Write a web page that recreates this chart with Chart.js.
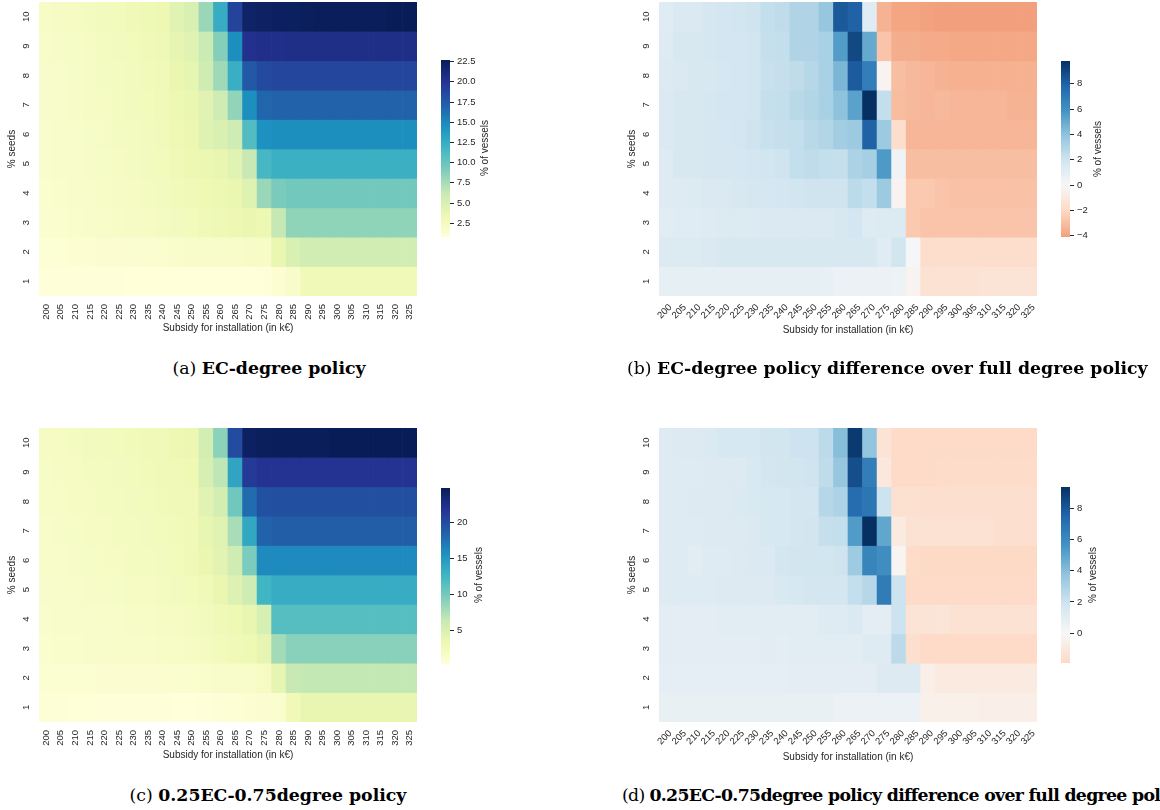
<!DOCTYPE html>
<html>
<head>
<meta charset="utf-8">
<script src="https://cdn.jsdelivr.net/npm/chart.js@4.4.0/dist/chart.umd.min.js"></script>
<style>
  html, body { margin: 0; padding: 0; background: #fff; }
  body { width: 1160px; height: 810px; position: relative; overflow: hidden; }
  canvas { position: absolute; }
  .cbtitle { position: absolute; font: 10px "Liberation Sans", Arial, sans-serif; color: #262626;
             white-space: nowrap; transform: translate(-50%, -50%) rotate(-90deg); }
  .caption { position: absolute; font-family: "DejaVu Serif", serif; white-space: nowrap; color: #000;
             line-height: 1; font-size: 15px; }
  .caption b { font-weight: bold; }
</style>
</head>
<body>
<canvas id="mapA" width="420" height="341" style="left:0;top:0"></canvas>
<canvas id="mapB" width="420" height="341" style="left:620px;top:0"></canvas>
<canvas id="mapC" width="420" height="341" style="left:0;top:426px"></canvas>
<canvas id="mapD" width="420" height="341" style="left:620px;top:426px"></canvas>

<canvas id="barA" width="45" height="185" style="left:441px;top:56px"></canvas>
<canvas id="barB" width="45" height="184" style="left:1061px;top:57px"></canvas>
<canvas id="barC" width="45" height="184" style="left:441px;top:484px"></canvas>
<canvas id="barD" width="45" height="184" style="left:1061px;top:483px"></canvas>

<div class="cbtitle" style="left:484px;top:148px">% of vessels</div>
<div class="cbtitle" style="left:1097px;top:149px">% of vessels</div>
<div class="cbtitle" style="left:478px;top:575px">% of vessels</div>
<div class="cbtitle" style="left:1092px;top:575px">% of vessels</div>

<div class="caption" id="capA" style="left:269px;top:360px;transform:translateX(-50%)">(a) <b>EC-degree policy</b></div>
<div class="caption" id="capB" style="left:627px;top:360px">(b) <b>EC-degree policy difference over full degree policy</b></div>
<div class="caption" id="capC" style="left:268px;top:787px;transform:translateX(-50%)">(c) <b>0.25EC-0.75degree policy</b></div>
<div class="caption" id="capD" style="left:622px;top:787px">(d) <b>0.25EC-0.75degree policy difference over full degree policy</b></div>

<script>
// x categories: subsidy for installation (k€)
const subsidies = ['200', '205', '210', '215', '220', '225', '230', '235', '240', '245', '250', '255', '260',
                   '265', '270', '275', '280', '285', '290', '295', '300', '305', '310', '315', '320', '325'];
// y rows: % seeds, top row first
const seedRows = [10, 9, 8, 7, 6, 5, 4, 3, 2, 1];

// (a) EC-degree policy, % of vessels
const ecDegree = [
  [2.0,2.2,2.3,2.5,2.7,2.8,3.0,3.2,3.4,4.5,5.0,8.0,12.5,19.0,22.0,22.2,22.3,22.4,22.5,22.6,22.6,22.6,22.6,22.6,22.7,22.7],
  [1.9,2.0,2.1,2.3,2.5,2.6,2.8,3.0,3.2,4.0,4.4,6.0,8.8,14.6,20.3,20.4,20.4,20.5,20.5,20.5,20.5,20.5,20.5,20.5,20.5,20.5],
  [1.8,1.9,2.1,2.2,2.4,2.5,2.7,2.9,3.1,3.7,4.1,5.7,7.8,12.3,17.6,18.5,18.7,18.8,18.8,18.8,18.8,18.8,18.8,18.8,18.8,18.8],
  [1.8,1.9,2.0,2.2,2.3,2.5,2.6,2.8,3.0,3.5,3.8,4.5,5.8,8.3,14.6,16.8,17.0,17.0,17.0,17.0,17.0,17.0,17.0,17.0,17.0,17.0],
  [1.7,1.8,1.9,2.1,2.2,2.4,2.5,2.7,2.9,3.3,3.6,4.6,5.0,5.8,11.0,14.5,14.6,14.6,14.6,14.6,14.6,14.6,14.6,14.6,14.6,14.6],
  [1.7,1.8,1.9,2.0,2.1,2.3,2.4,2.6,2.8,3.1,3.4,3.6,3.9,4.5,6.2,11.5,12.2,12.2,12.2,12.2,12.2,12.2,12.2,12.2,12.2,12.2],
  [1.6,1.7,1.8,1.9,2.0,2.2,2.3,2.5,2.6,2.9,3.1,3.3,3.5,3.8,4.6,8.0,9.2,9.6,9.6,9.6,9.6,9.6,9.6,9.6,9.6,9.6],
  [1.5,1.6,1.7,1.8,1.9,2.0,2.2,2.3,2.4,2.6,2.8,3.0,3.2,3.4,3.7,3.5,6.3,8.4,8.4,8.4,8.4,8.4,8.4,8.4,8.4,8.4],
  [1.2,1.2,1.3,1.3,1.4,1.4,1.5,1.5,1.6,1.7,1.8,1.8,1.9,1.9,2.0,2.0,3.8,5.0,5.5,5.5,5.5,5.5,5.5,5.5,5.5,5.5],
  [0.9,0.9,0.9,0.9,0.9,0.9,0.85,0.85,0.85,0.8,0.8,0.8,0.8,0.8,0.8,0.9,1.3,1.8,3.1,3.1,3.1,3.1,3.1,3.1,3.1,3.1]
];

// (b) EC-degree minus full degree
const ecDegreeDiff = [
  [1.2,1.5,1.5,1.7,1.8,1.9,2.0,2.4,2.5,3.0,3.0,3.8,8.3,8.0,1.2,-3.4,-3.9,-3.9,-4.0,-4.1,-4.1,-4.1,-4.1,-4.1,-4.1,-4.1],
  [1.3,1.6,1.6,1.7,1.8,1.8,1.9,2.3,2.4,3.0,3.0,3.2,5.5,8.9,5.0,-2.8,-3.6,-3.6,-3.7,-3.7,-3.8,-3.8,-3.8,-3.8,-3.8,-3.8],
  [1.4,1.5,1.6,1.6,1.7,1.8,1.9,2.2,2.3,2.5,2.8,3.2,4.5,8.2,6.8,-0.3,-3.0,-3.2,-3.3,-3.4,-3.5,-3.5,-3.5,-3.5,-3.5,-3.5],
  [1.5,1.6,1.6,1.7,1.8,1.8,1.9,2.3,2.4,2.7,2.9,3.2,4.0,5.3,9.8,2.4,-3.1,-3.2,-3.3,-3.2,-3.3,-3.3,-3.3,-3.3,-3.4,-3.4],
  [1.5,1.6,1.6,1.7,1.7,1.8,2.0,2.2,2.3,2.4,2.7,2.9,3.4,3.6,8.0,3.6,-1.8,-3.3,-3.3,-3.3,-3.3,-3.3,-3.3,-3.3,-3.3,-3.3],
  [1.3,1.6,1.6,1.7,1.7,1.7,1.8,1.9,2.0,2.4,2.5,2.4,2.3,3.1,3.3,5.6,0.4,-3.0,-3.0,-3.0,-3.0,-3.0,-3.0,-3.0,-3.0,-3.0],
  [1.3,1.3,1.4,1.5,1.5,1.6,1.7,1.7,1.8,1.9,2.0,2.0,2.0,2.6,2.4,3.6,-0.3,-2.6,-2.6,-2.8,-2.9,-2.9,-2.9,-2.9,-2.9,-2.9],
  [1.1,1.2,1.2,1.3,1.4,1.4,1.4,1.5,1.5,1.5,1.5,1.5,1.6,1.8,1.3,1.4,1.4,-2.6,-2.8,-2.8,-2.8,-2.8,-2.8,-2.8,-2.8,-2.8],
  [1.4,1.4,1.4,1.5,1.6,1.6,1.6,1.6,1.6,1.6,1.6,1.6,1.6,1.6,1.6,1.2,1.9,0.1,-1.8,-1.8,-1.8,-1.8,-1.8,-1.8,-1.8,-1.8],
  [0.9,0.9,0.9,0.9,0.9,0.9,0.9,0.9,0.9,0.9,0.9,0.8,0.6,0.6,0.6,0.6,0.5,-0.3,-1.5,-1.5,-1.5,-1.5,-1.4,-1.4,-1.4,-1.4]
];

// (c) 0.25EC-0.75degree policy
const mixedPolicy = [
  [2.0,2.1,2.2,2.4,2.5,2.6,2.7,2.9,3.0,3.3,3.5,5.5,9.0,20.0,24.2,24.5,24.6,24.6,24.6,24.6,24.7,24.7,24.7,24.7,24.7,24.7],
  [1.9,2.0,2.1,2.2,2.3,2.4,2.6,2.7,2.9,3.0,3.2,5.2,6.8,14.0,21.2,21.8,21.8,21.8,21.8,21.8,21.8,21.8,21.8,21.8,21.8,21.8],
  [1.8,1.9,2.0,2.1,2.2,2.3,2.4,2.6,2.7,2.8,3.0,4.5,5.5,10.3,17.8,19.6,19.7,19.7,19.7,19.7,19.7,19.7,19.7,19.7,19.7,19.7],
  [1.7,1.8,1.9,2.0,2.1,2.2,2.3,2.4,2.6,2.7,2.9,3.9,4.5,7.8,13.8,18.4,18.6,18.6,18.6,18.6,18.6,18.6,18.6,18.6,18.6,18.6],
  [1.6,1.7,1.8,1.9,2.0,2.1,2.2,2.3,2.4,2.6,2.8,3.6,4.2,5.8,9.7,16.0,16.0,16.0,16.0,16.0,16.0,16.0,16.0,16.0,16.0,16.0],
  [1.5,1.6,1.7,1.8,1.8,1.9,2.0,2.1,2.2,2.4,2.6,3.0,3.6,4.7,5.9,12.6,13.4,13.4,13.4,13.4,13.4,13.4,13.4,13.4,13.4,13.4],
  [1.4,1.5,1.5,1.6,1.6,1.7,1.8,1.9,2.0,2.1,2.2,2.5,2.8,3.2,3.8,5.3,11.5,11.5,11.5,11.5,11.5,11.5,11.5,11.5,11.5,11.5],
  [1.3,1.4,1.4,1.5,1.5,1.6,1.6,1.7,1.8,1.9,2.0,2.3,2.6,2.9,3.2,4.0,8.0,9.1,9.1,9.1,9.1,9.1,9.1,9.1,9.1,9.1],
  [1.0,1.0,1.0,1.0,1.1,1.1,1.1,1.1,1.1,1.2,1.2,1.4,1.5,1.6,1.7,2.0,4.0,6.4,6.6,6.6,6.6,6.6,6.6,6.6,6.6,6.6],
  [0.7,0.7,0.6,0.6,0.5,0.5,0.5,0.5,0.5,0.4,0.4,0.6,0.7,0.8,0.9,1.1,1.3,3.0,3.8,3.8,3.8,3.8,3.8,3.8,3.8,3.8]
];

// (d) 0.25EC-0.75degree minus full degree
const mixedPolicyDiff = [
  [1.2,1.3,1.3,1.4,1.6,1.6,1.6,1.8,1.8,2.0,2.0,2.5,4.0,9.0,3.7,-1.3,-1.85,-1.85,-1.85,-1.85,-1.85,-1.85,-1.85,-1.85,-1.85,-1.85],
  [1.2,1.2,1.2,1.3,1.3,1.3,1.5,1.7,1.8,1.8,1.9,2.4,3.6,8.3,6.5,-1.1,-1.85,-1.85,-1.85,-1.8,-1.8,-1.8,-1.8,-1.8,-1.8,-1.8],
  [1.2,1.2,1.3,1.3,1.3,1.4,1.5,1.6,1.6,1.7,1.7,2.7,2.9,7.2,6.8,2.0,-1.5,-1.5,-1.6,-1.6,-1.6,-1.6,-1.6,-1.6,-1.6,-1.6],
  [1.2,1.2,1.2,1.3,1.3,1.3,1.4,1.6,1.6,1.7,1.8,2.2,2.3,5.3,9.35,4.9,-0.9,-1.4,-1.4,-1.4,-1.4,-1.4,-1.4,-1.6,-1.6,-1.6],
  [1.2,1.2,1.1,1.2,1.2,1.3,1.4,1.4,1.7,1.8,1.8,1.8,1.9,3.4,6.2,5.8,-0.2,-1.8,-1.9,-1.9,-1.9,-1.9,-1.9,-1.9,-1.9,-1.9],
  [1.2,1.2,1.2,1.2,1.3,1.3,1.3,1.3,1.5,1.6,1.7,1.7,1.7,2.3,2.7,6.6,2.0,-1.85,-1.85,-1.85,-1.85,-1.85,-1.85,-1.85,-1.85,-1.85],
  [1.0,1.0,1.0,1.0,1.1,1.1,1.1,1.1,1.1,1.1,1.1,1.2,1.2,1.4,1.0,1.0,2.0,-1.3,-1.3,-1.2,-1.4,-1.4,-1.4,-1.4,-1.4,-1.4],
  [1.0,1.0,1.0,1.0,1.0,1.0,1.0,1.1,1.0,1.1,1.1,1.1,1.1,1.1,1.2,1.2,2.5,-1.6,-1.85,-1.85,-1.85,-1.85,-1.85,-1.85,-1.85,-1.85],
  [0.9,0.9,0.9,0.9,0.9,0.9,0.9,0.9,0.9,1.0,1.0,1.0,1.0,1.0,1.0,1.3,1.3,1.3,-0.6,-0.9,-0.9,-0.9,-0.9,-0.9,-0.9,-0.9],
  [0.7,0.7,0.7,0.7,0.7,0.7,0.7,0.7,0.7,0.7,0.7,0.7,0.6,0.6,0.6,0.6,0.6,0.6,-0.5,-0.5,-0.5,-0.5,-0.6,-0.6,-0.6,-0.6]
];

// colorbar ticks
const cbTicksA = [2.5, 5, 7.5, 10, 12.5, 15, 17.5, 20, 22.5];
const cbLabelsA = ['2.5', '5.0', '7.5', '10.0', '12.5', '15.0', '17.5', '20.0', '22.5'];
const cbTicksB = [-4, -2, 0, 2, 4, 6, 8];
const cbLabelsB = ['\u22124', '\u22122', '0', '2', '4', '6', '8'];
const cbTicksC = [5, 10, 15, 20];
const cbLabelsC = ['5', '10', '15', '20'];
const cbTicksD = [0, 2, 4, 6, 8];
const cbLabelsD = ['0', '2', '4', '6', '8'];

const TEXT = '#262626';
const SANS = '"Liberation Sans", Arial, sans-serif';

// matplotlib colormaps
const YLGNBU = ['#ffffd9', '#edf8b1', '#c7e9b4', '#7fcdbb', '#41b6c4', '#1d91c0', '#225ea8', '#253494', '#081d58'];
const RDBU = ['#67001f', '#b2182b', '#d6604d', '#f4a582', '#fddbc7', '#f7f7f7', '#d1e5f0', '#92c5de', '#4393c3', '#2166ac', '#053061'];

function hexRgb(h) {
  return [parseInt(h.slice(1, 3), 16), parseInt(h.slice(3, 5), 16), parseInt(h.slice(5, 7), 16)];
}

function sample(stops, t) {
  t = Math.max(0, Math.min(1, t));
  const pos = t * (stops.length - 1);
  const i = Math.min(stops.length - 2, Math.floor(pos));
  const f = pos - i;
  const a = hexRgb(stops[i]), b = hexRgb(stops[i + 1]);
  const c = a.map((v, k) => Math.round(v + (b[k] - v) * f));
  return 'rgb(' + c.join(',') + ')';
}

function extent(matrix) {
  const all = matrix.flat();
  return [Math.min(...all), Math.max(...all)];
}

function sequential(matrix) {
  const [lo, hi] = extent(matrix);
  return { lo, hi, color: v => sample(YLGNBU, (v - lo) / (hi - lo)) };
}

// seaborn-style center=0 diverging map
function diverging(matrix) {
  const [lo, hi] = extent(matrix);
  const r = Math.max(hi, -lo);
  return { lo, hi, color: v => sample(RDBU, (v + r) / (2 * r)) };
}

function heatmap(id, matrix, cmap, o) {
  const datasets = seedRows.map((row, k) => ({
    data: subsidies.map(() => [row - 0.5, row + 0.5]),
    backgroundColor: matrix[k].map(cmap.color),
    borderWidth: 0,
    grouped: false,
    barPercentage: 1,
    categoryPercentage: 1
  }));

  new Chart(document.getElementById(id), {
    type: 'bar',
    data: { labels: subsidies, datasets: datasets },
    options: {
      responsive: false,
      animation: false,
      events: [],
      layout: { padding: { top: 2, right: 3, left: 0, bottom: 0 } },
      plugins: { legend: { display: false }, tooltip: { enabled: false } },
      scales: {
        x: {
          grid: { display: false, drawTicks: false },
          border: { display: false },
          ticks: {
            autoSkip: false, minRotation: o.rot, maxRotation: o.rot, padding: o.tickPad,
            labelOffset: o.labelOffset, color: TEXT, font: { family: SANS, size: 9.5 }
          },
          title: {
            display: true, text: 'Subsidy for installation (in k€)', color: TEXT,
            font: { family: SANS, size: 10 }, padding: { top: 0, bottom: o.titlePad }
          },
          afterFit: s => { s.height = 45; s.paddingLeft = 0; s.paddingRight = 0; }
        },
        y: {
          min: 0.5,
          max: 10.5,
          grid: { display: false, drawTicks: false },
          border: { display: false },
          afterBuildTicks: s => { s.ticks = seedRows.map(v => ({ value: v })); },
          ticks: {
            minRotation: 90, maxRotation: 90, crossAlign: 'center', padding: 7,
            color: TEXT, font: { family: SANS, size: 9.5 }, callback: v => String(v)
          },
          title: {
            display: true, text: '% seeds', color: TEXT,
            font: { family: SANS, size: 10 }, padding: { top: 6.3, bottom: 0 }
          },
          afterFit: s => { s.width = 39; s.paddingTop = 0; s.paddingBottom = 0; }
        }
      }
    }
  });
}

function colorbar(id, cmap, ticks, labels) {
  const lo = cmap.lo, hi = cmap.hi;
  new Chart(document.getElementById(id), {
    type: 'bar',
    data: {
      labels: [''],
      datasets: [{
        data: [[lo, hi]],
        borderWidth: 0,
        barPercentage: 1,
        categoryPercentage: 1,
        backgroundColor: ctx => {
          const chart = ctx.chart;
          if (!chart.chartArea || !chart.scales.y) return 'transparent';
          const y = chart.scales.y;
          const g = chart.ctx.createLinearGradient(0, y.getPixelForValue(lo), 0, y.getPixelForValue(hi));
          for (let i = 0; i <= 48; i++) {
            g.addColorStop(i / 48, cmap.color(lo + (hi - lo) * i / 48));
          }
          return g;
        }
      }]
    },
    options: {
      responsive: false,
      animation: false,
      events: [],
      layout: { padding: { top: 4, bottom: 4, left: 0, right: 0 } },
      plugins: { legend: { display: false }, tooltip: { enabled: false } },
      scales: {
        x: { display: false },
        y: {
          position: 'right',
          min: lo,
          max: hi,
          afterBuildTicks: s => { s.ticks = ticks.map(v => ({ value: v })); },
          ticks: { padding: 3, color: TEXT, font: { family: SANS, size: 9.5 }, callback: (v, i) => labels[i] },
          grid: { drawOnChartArea: false, drawTicks: true, tickLength: 4, color: TEXT, lineWidth: 1 },
          border: { display: false },
          afterFit: s => { s.width = 36; s.paddingTop = 0; s.paddingBottom = 0; }
        }
      }
    }
  });
}

const mapA = sequential(ecDegree);
const mapB = diverging(ecDegreeDiff);
const mapC = sequential(mixedPolicy);
const mapD = diverging(mixedPolicyDiff);

heatmap('mapA', ecDegree, mapA, { rot: 90, tickPad: 8, labelOffset: 0, titlePad: 7 });
heatmap('mapB', ecDegreeDiff, mapB, { rot: 45, tickPad: 6, labelOffset: 4, titlePad: 5 });
heatmap('mapC', mixedPolicy, mapC, { rot: 90, tickPad: 8, labelOffset: 0, titlePad: 6 });
heatmap('mapD', mixedPolicyDiff, mapD, { rot: 45, tickPad: 6, labelOffset: 4, titlePad: 4 });

colorbar('barA', mapA, cbTicksA, cbLabelsA);
colorbar('barB', mapB, cbTicksB, cbLabelsB);
colorbar('barC', mapC, cbTicksC, cbLabelsC);
colorbar('barD', mapD, cbTicksD, cbLabelsD);

// size the captions so that (b) spans its width in the reference
const capB = document.getElementById('capB');
const size = 15 * 521 / capB.getBoundingClientRect().width;
['capA', 'capB', 'capC', 'capD'].forEach(id => {
  document.getElementById(id).style.fontSize = size.toFixed(2) + 'px';
});
// (d) is set a little tighter in the reference: "...full degree pol" reaches the page edge
const capD = document.getElementById('capD');
const dText = capD.textContent.length;
const spread = (563 - capD.getBoundingClientRect().width) / dText;
capD.style.letterSpacing = spread.toFixed(2) + 'px';
</script>
</body>
</html>
